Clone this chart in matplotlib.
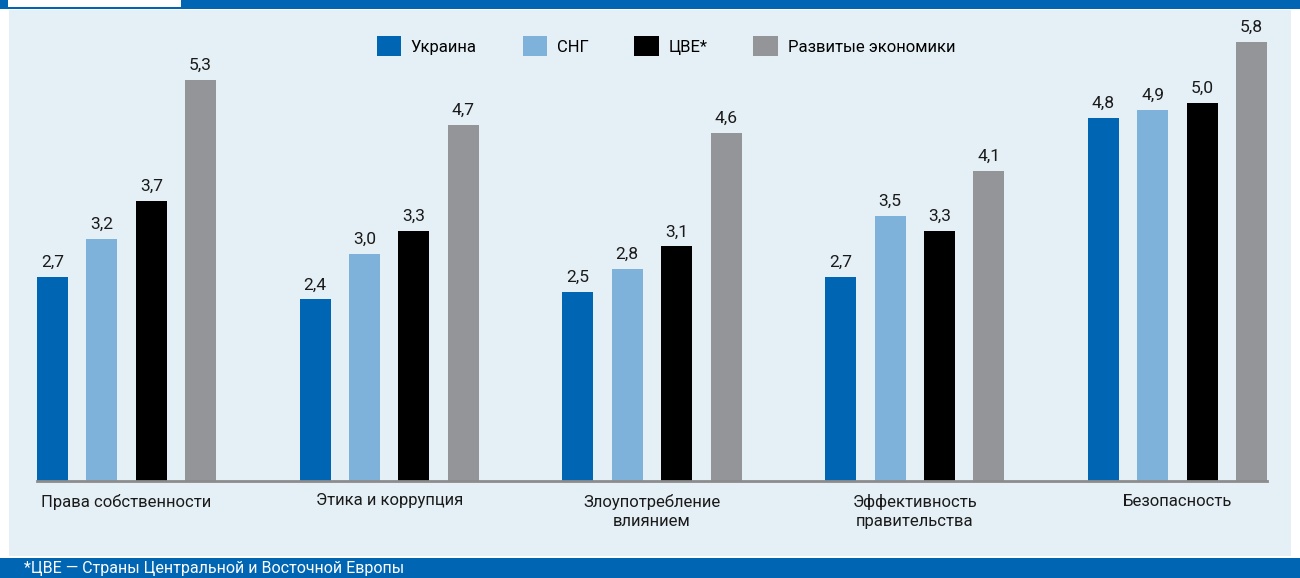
import matplotlib
matplotlib.use("Agg")
import matplotlib.pyplot as plt
from matplotlib.patches import Rectangle
from matplotlib import font_manager as fm
import numpy as np

categories = ["Права собственности", "Этика и коррупция", "Злоупотребление\nвлиянием",
              "Эффективность\nправительства", "Безопасность"]
series_names = ["Украина", "СНГ", "ЦВЕ*", "Развитые экономики"]
ukraine = [2.7, 2.4, 2.5, 2.7, 4.8]
cis = [3.2, 3.0, 2.8, 3.5, 4.9]
cee = [3.7, 3.3, 3.1, 3.3, 5.0]
developed = [5.3, 4.7, 4.6, 4.1, 5.8]
footnote = "*ЦВЕ — Страны Центральной и Восточной Европы"

colors = ["#0066B3", "#7FB2DA", "#000000", "#939598"]
BLUE = "#0066B3"
BG = "#E4EFF6"

names = {f.name for f in fm.fontManager.ttflist}
fam = [f for f in ["Liberation Sans Narrow", "Roboto", "DejaVu Sans"] if f in names]
plt.rcParams['font.family'] = fam

W, H = 1300, 578
fig = plt.figure(figsize=(W / 100, H / 100), dpi=100)
fig.patch.set_facecolor("white")

def frect(x0, y0, x1, y1, color, z=-10):
    # pixel coords from top-left
    fig.patches.append(Rectangle((x0 / W, 1 - y1 / H), (x1 - x0) / W, (y1 - y0) / H,
                                 transform=fig.transFigure, color=color, zorder=z, lw=0))

frect(0, 0, W, 9, BLUE)
frect(8, 0, 181, 7, "white", -9)
frect(9, 10, 1291, 556, BG)
frect(0, 558, W, H, BLUE)
fig.text(24 / W, 1 - 573.5 / H, footnote, color="white", fontsize=11.5, va="baseline", ha="left")

left_px, right_px, base_px, top_px = 37, 1267, 481, 42
ax = fig.add_axes([left_px / W, 1 - base_px / H, (right_px - left_px) / W, (base_px - top_px) / H])
ax.set_facecolor("none")
ax.set_zorder(5)

x = np.arange(len(categories))
step = 0.188
bw = 0.118
all_series = [ukraine, cis, cee, developed]
for i, (vals, c, n) in enumerate(zip(all_series, colors, series_names)):
    pos = x + (i - 1.5) * step
    ax.bar(pos, vals, width=bw, color=c, label=n, zorder=2)
    for xp, v in zip(pos, vals):
        ax.annotate(f"{v:.1f}".replace(".", ","), (xp, v), xytext=(0, 5), textcoords="offset points",
                    ha="center", va="bottom", fontsize=12.5, color="#1a1a1a", annotation_clip=False)

half = 1.5 * step + bw / 2
ax.set_xlim(-half, len(categories) - 1 + half)
ax.set_ylim(0, 5.8)
for s in ["top", "right", "left"]:
    ax.spines[s].set_visible(False)
ax.spines["bottom"].set_color("#8c8c8c")
ax.spines["bottom"].set_linewidth(2)
ax.spines["bottom"].set_zorder(3)
ax.set_yticks([])
ax.set_xticks(x)
ax.set_xticklabels(categories, fontsize=12, color="#1a1a1a", linespacing=1.4)
ax.tick_params(axis="x", length=0, pad=9)

leg = fig.legend(loc="center left", bbox_to_anchor=(370 / W, 1 - 46 / H), ncol=4, frameon=False,
                 fontsize=12, handlelength=1.45, handleheight=1.45, handletextpad=0.6,
                 columnspacing=2.75, borderaxespad=0)

fig.savefig("out.png", dpi=100, facecolor=fig.get_facecolor())
